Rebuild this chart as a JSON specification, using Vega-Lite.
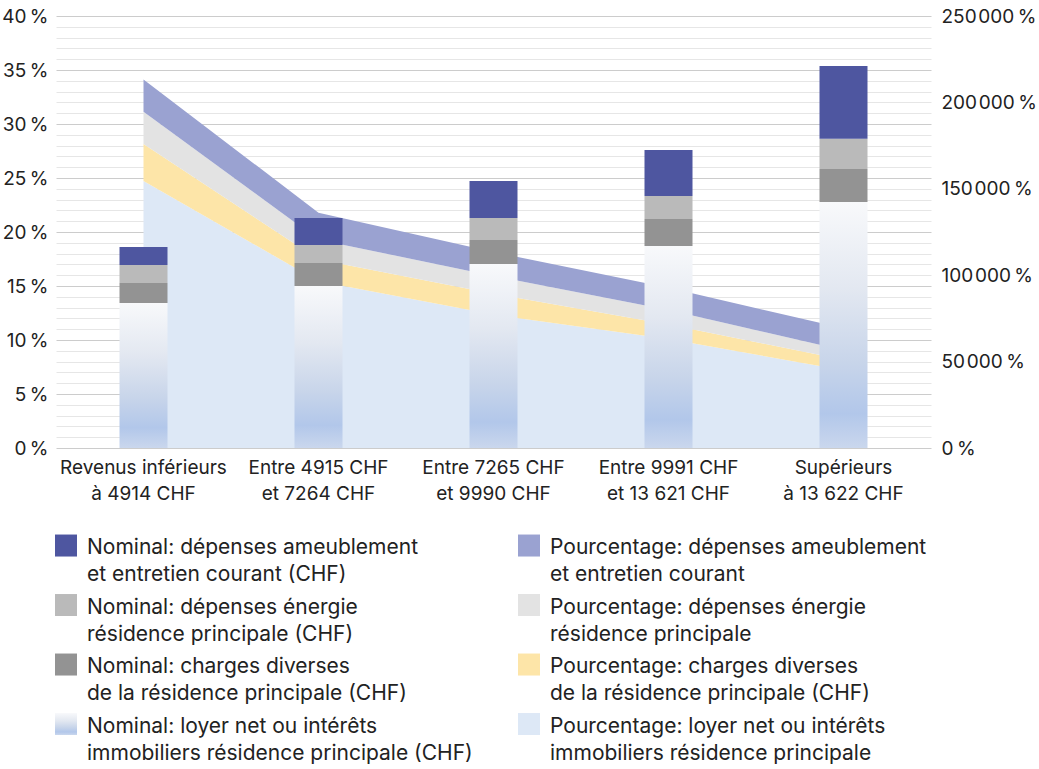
{
  "$schema": "https://vega.github.io/schema/vega-lite/v6.json",
  "width": 875,
  "height": 432,
  "autosize": {"type": "none"},
  "padding": {"left": 56, "top": 16, "right": 108, "bottom": 321},
  "config": {
    "font": "Inter",
    "view": {"stroke": null},
    "axis": {"labelColor": "#222222", "labelFontSize": 19, "labelFont": "Inter", "title": null, "domain": false, "ticks": false},
    "legend": {
      "orient": "none", "legendX": -1, "legendY": 527, "columns": 2, "columnPadding": 45, "rowPadding": 8.5,
      "symbolType": "M-1,-1.77H1V0.23H-1Z", "symbolSize": 484, "symbolStrokeWidth": 0, "symbolOpacity": 1,
      "labelFontSize": 21, "labelBaseline": "alphabetic", "labelOffset": 10,
      "labelLimit": 700, "labelColor": "#222222", "labelFont": "Inter", "padding": 0
    }
  },
  "data": {"values": [
    {"categorie": "Revenus inférieurs\nà 4914 CHF", "mesure": "Pourcentage", "rang": 1, "serie": "Pourcentage: loyer net ou intérêts\nimmobiliers résidence principale", "valeur": 0.2472},
    {"categorie": "Revenus inférieurs\nà 4914 CHF", "mesure": "Pourcentage", "rang": 2, "serie": "Pourcentage: charges diverses\nde la résidence principale (CHF)", "valeur": 0.0343},
    {"categorie": "Revenus inférieurs\nà 4914 CHF", "mesure": "Pourcentage", "rang": 3, "serie": "Pourcentage: dépenses énergie\nrésidence principale", "valeur": 0.0299},
    {"categorie": "Revenus inférieurs\nà 4914 CHF", "mesure": "Pourcentage", "rang": 4, "serie": "Pourcentage: dépenses ameublement\net entretien courant", "valeur": 0.0299},
    {"categorie": "Entre 4915 CHF\net 7264 CHF", "mesure": "Pourcentage", "rang": 1, "serie": "Pourcentage: loyer net ou intérêts\nimmobiliers résidence principale", "valeur": 0.1544},
    {"categorie": "Entre 4915 CHF\net 7264 CHF", "mesure": "Pourcentage", "rang": 2, "serie": "Pourcentage: charges diverses\nde la résidence principale (CHF)", "valeur": 0.0202},
    {"categorie": "Entre 4915 CHF\net 7264 CHF", "mesure": "Pourcentage", "rang": 3, "serie": "Pourcentage: dépenses énergie\nrésidence principale", "valeur": 0.0183},
    {"categorie": "Entre 4915 CHF\net 7264 CHF", "mesure": "Pourcentage", "rang": 4, "serie": "Pourcentage: dépenses ameublement\net entretien courant", "valeur": 0.0249},
    {"categorie": "Entre 7265 CHF\net 9990 CHF", "mesure": "Pourcentage", "rang": 1, "serie": "Pourcentage: loyer net ou intérêts\nimmobiliers résidence principale", "valeur": 0.1235},
    {"categorie": "Entre 7265 CHF\net 9990 CHF", "mesure": "Pourcentage", "rang": 2, "serie": "Pourcentage: charges diverses\nde la résidence principale (CHF)", "valeur": 0.0194},
    {"categorie": "Entre 7265 CHF\net 9990 CHF", "mesure": "Pourcentage", "rang": 3, "serie": "Pourcentage: dépenses énergie\nrésidence principale", "valeur": 0.0164},
    {"categorie": "Entre 7265 CHF\net 9990 CHF", "mesure": "Pourcentage", "rang": 4, "serie": "Pourcentage: dépenses ameublement\net entretien courant", "valeur": 0.0221},
    {"categorie": "Entre 9991 CHF\net 13 621 CHF", "mesure": "Pourcentage", "rang": 1, "serie": "Pourcentage: loyer net ou intérêts\nimmobiliers résidence principale", "valeur": 0.1009},
    {"categorie": "Entre 9991 CHF\net 13 621 CHF", "mesure": "Pourcentage", "rang": 2, "serie": "Pourcentage: charges diverses\nde la résidence principale (CHF)", "valeur": 0.0135},
    {"categorie": "Entre 9991 CHF\net 13 621 CHF", "mesure": "Pourcentage", "rang": 3, "serie": "Pourcentage: dépenses énergie\nrésidence principale", "valeur": 0.0134},
    {"categorie": "Entre 9991 CHF\net 13 621 CHF", "mesure": "Pourcentage", "rang": 4, "serie": "Pourcentage: dépenses ameublement\net entretien courant", "valeur": 0.0206},
    {"categorie": "Supérieurs\nà 13 622 CHF", "mesure": "Pourcentage", "rang": 1, "serie": "Pourcentage: loyer net ou intérêts\nimmobiliers résidence principale", "valeur": 0.0719},
    {"categorie": "Supérieurs\nà 13 622 CHF", "mesure": "Pourcentage", "rang": 2, "serie": "Pourcentage: charges diverses\nde la résidence principale (CHF)", "valeur": 0.0098},
    {"categorie": "Supérieurs\nà 13 622 CHF", "mesure": "Pourcentage", "rang": 3, "serie": "Pourcentage: dépenses énergie\nrésidence principale", "valeur": 0.0087},
    {"categorie": "Supérieurs\nà 13 622 CHF", "mesure": "Pourcentage", "rang": 4, "serie": "Pourcentage: dépenses ameublement\net entretien courant", "valeur": 0.0204},
    {"categorie": "Revenus inférieurs\nà 4914 CHF", "mesure": "Nominal", "rang": 1, "serie": "Nominal: loyer net ou intérêts\nimmobiliers résidence principale (CHF)", "valeur": 839},
    {"categorie": "Revenus inférieurs\nà 4914 CHF", "mesure": "Nominal", "rang": 2, "serie": "Nominal: charges diverses\nde la résidence principale (CHF)", "valeur": 116},
    {"categorie": "Revenus inférieurs\nà 4914 CHF", "mesure": "Nominal", "rang": 3, "serie": "Nominal: dépenses énergie\nrésidence principale (CHF)", "valeur": 104},
    {"categorie": "Revenus inférieurs\nà 4914 CHF", "mesure": "Nominal", "rang": 4, "serie": "Nominal: dépenses ameublement\net entretien courant (CHF)", "valeur": 104},
    {"categorie": "Entre 4915 CHF\net 7264 CHF", "mesure": "Nominal", "rang": 1, "serie": "Nominal: loyer net ou intérêts\nimmobiliers résidence principale (CHF)", "valeur": 938},
    {"categorie": "Entre 4915 CHF\net 7264 CHF", "mesure": "Nominal", "rang": 2, "serie": "Nominal: charges diverses\nde la résidence principale (CHF)", "valeur": 133},
    {"categorie": "Entre 4915 CHF\net 7264 CHF", "mesure": "Nominal", "rang": 3, "serie": "Nominal: dépenses énergie\nrésidence principale (CHF)", "valeur": 104},
    {"categorie": "Entre 4915 CHF\net 7264 CHF", "mesure": "Nominal", "rang": 4, "serie": "Nominal: dépenses ameublement\net entretien courant (CHF)", "valeur": 156},
    {"categorie": "Entre 7265 CHF\net 9990 CHF", "mesure": "Nominal", "rang": 1, "serie": "Nominal: loyer net ou intérêts\nimmobiliers résidence principale (CHF)", "valeur": 1065},
    {"categorie": "Entre 7265 CHF\net 9990 CHF", "mesure": "Nominal", "rang": 2, "serie": "Nominal: charges diverses\nde la résidence principale (CHF)", "valeur": 139},
    {"categorie": "Entre 7265 CHF\net 9990 CHF", "mesure": "Nominal", "rang": 3, "serie": "Nominal: dépenses énergie\nrésidence principale (CHF)", "valeur": 127},
    {"categorie": "Entre 7265 CHF\net 9990 CHF", "mesure": "Nominal", "rang": 4, "serie": "Nominal: dépenses ameublement\net entretien courant (CHF)", "valeur": 214},
    {"categorie": "Entre 9991 CHF\net 13 621 CHF", "mesure": "Nominal", "rang": 1, "serie": "Nominal: loyer net ou intérêts\nimmobiliers résidence principale (CHF)", "valeur": 1169},
    {"categorie": "Entre 9991 CHF\net 13 621 CHF", "mesure": "Nominal", "rang": 2, "serie": "Nominal: charges diverses\nde la résidence principale (CHF)", "valeur": 156},
    {"categorie": "Entre 9991 CHF\net 13 621 CHF", "mesure": "Nominal", "rang": 3, "serie": "Nominal: dépenses énergie\nrésidence principale (CHF)", "valeur": 133},
    {"categorie": "Entre 9991 CHF\net 13 621 CHF", "mesure": "Nominal", "rang": 4, "serie": "Nominal: dépenses ameublement\net entretien courant (CHF)", "valeur": 266},
    {"categorie": "Supérieurs\nà 13 622 CHF", "mesure": "Nominal", "rang": 1, "serie": "Nominal: loyer net ou intérêts\nimmobiliers résidence principale (CHF)", "valeur": 1424},
    {"categorie": "Supérieurs\nà 13 622 CHF", "mesure": "Nominal", "rang": 2, "serie": "Nominal: charges diverses\nde la résidence principale (CHF)", "valeur": 191},
    {"categorie": "Supérieurs\nà 13 622 CHF", "mesure": "Nominal", "rang": 3, "serie": "Nominal: dépenses énergie\nrésidence principale (CHF)", "valeur": 174},
    {"categorie": "Supérieurs\nà 13 622 CHF", "mesure": "Nominal", "rang": 4, "serie": "Nominal: dépenses ameublement\net entretien courant (CHF)", "valeur": 422}
  ]},
  "encoding": {
    "x": {
      "field": "categorie", "type": "nominal",
      "sort": ["Revenus inférieurs\nà 4914 CHF", "Entre 4915 CHF\net 7264 CHF", "Entre 7265 CHF\net 9990 CHF", "Entre 9991 CHF\net 13 621 CHF", "Supérieurs\nà 13 622 CHF"],
      "scale": {"paddingInner": 0, "paddingOuter": 0},
      "axis": {"labelAngle": 0, "labelPadding": 10, "labelLineHeight": 26, "labelBaseline": "top", "labelExpr": "split(datum.label, '\\n')", "grid": false}
    },
    "color": {
      "field": "serie", "type": "nominal",
      "scale": {
        "domain": [
          "Nominal: dépenses ameublement\net entretien courant (CHF)",
          "Nominal: dépenses énergie\nrésidence principale (CHF)",
          "Nominal: charges diverses\nde la résidence principale (CHF)",
          "Nominal: loyer net ou intérêts\nimmobiliers résidence principale (CHF)",
          "Pourcentage: dépenses ameublement\net entretien courant",
          "Pourcentage: dépenses énergie\nrésidence principale",
          "Pourcentage: charges diverses\nde la résidence principale (CHF)",
          "Pourcentage: loyer net ou intérêts\nimmobiliers résidence principale"
        ],
        "range": ["#4e56a0", "#bababa", "#939393",
          {"expr": "{gradient: 'linear', x1: 0, y1: 0, x2: 0, y2: 1, stops: [{offset: 0, color: '#f8f9fb'}, {offset: 0.35, color: '#e3e8f1'}, {offset: 0.65, color: '#c8d5ea'}, {offset: 0.86, color: '#b2c7ea'}, {offset: 1, color: '#cad7ed'}]}"},
          "#9aa2d1", "#e3e3e3", "#fde5a8", "#dde8f6"]
      },
      "legend": {
        "labelExpr": "split(datum.label, '\\n')", "title": null,
        "encode": {"labels": {"update": {"lineHeight": {"value": 27}}}}
      }
    },
    "order": {"field": "rang", "type": "quantitative"}
  },
  "layer": [
    {
      "transform": [{"filter": "datum.mesure === 'Pourcentage'"}],
      "mark": {"type": "area", "interpolate": "linear", "opacity": 1},
      "encoding": {
        "y": {
          "field": "valeur", "type": "quantitative", "stack": "zero",
          "scale": {"domain": [0, 0.4], "nice": false},
          "axis": {
            "orient": "left", "labelPadding": 8, "grid": true, "gridWidth": 1,
            "values": [0, 0.01, 0.02, 0.03, 0.04, 0.05, 0.06, 0.07, 0.08, 0.09, 0.1, 0.11, 0.12, 0.13, 0.14, 0.15, 0.16, 0.17, 0.18, 0.19, 0.2, 0.21, 0.22, 0.23, 0.24, 0.25, 0.26, 0.27, 0.28, 0.29, 0.3, 0.31, 0.32, 0.33, 0.34, 0.35, 0.36, 0.37, 0.38, 0.39, 0.4],
            "gridColor": {"condition": {"test": "round(datum.value*100) % 5 === 0", "value": "#cccccc"}, "value": "#e6e6e6"},
            "labelExpr": "round(datum.value*100) % 5 === 0 ? round(datum.value*100) + '\u2009%' : ''"
          }
        }
      }
    },
    {
      "transform": [{"filter": "datum.mesure === 'Nominal'"}],
      "mark": {"type": "bar", "width": 48},
      "encoding": {
        "y": {
          "field": "valeur", "type": "quantitative", "stack": "zero",
          "scale": {"domain": [0, 2500], "nice": false},
          "axis": {
            "orient": "right", "labelPadding": 10, "grid": false,
            "values": [0, 500, 1000, 1500, 2000, 2500],
            "labelExpr": "datum.value === 0 ? '0\u2009%' : format(datum.value/10, 'd') + '\u200a000\u2009%'"
          }
        }
      }
    }
  ],
  "resolve": {"scale": {"y": "independent"}}
}
